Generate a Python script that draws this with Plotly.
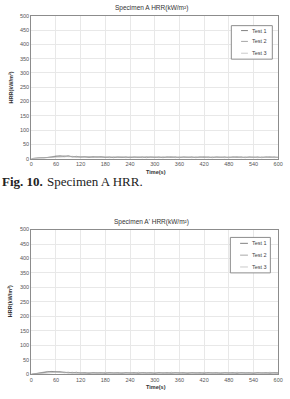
import plotly.graph_objects as go

W, H = 290, 399

# ---------------- data ----------------
time_s = list(range(0, 601, 10))
x_ticks = [0, 60, 120, 180, 240, 300, 360, 420, 480, 540, 600]
y_ticks = [0, 50, 100, 150, 200, 250, 300, 350, 400, 450, 500]
series_names = ["Test 1", "Test 2", "Test 3"]

a_test1 = [0, 1, 3, 2, 4, 5, 8, 10, 7, 10, 6, 8, 5, 7, 4, 7, 5, 7, 4, 6,
           3, 6, 4, 6, 3, 6, 4, 6, 3, 6, 4, 6, 3, 6, 4, 6, 3, 6, 4, 6,
           3, 6, 4, 6, 3, 6, 4, 6, 3, 6, 4, 6, 3, 6, 4, 6, 3, 6, 4, 6, 4]
a_test2 = [0, 2, 3, 2, 4, 6, 9, 7, 10, 7, 8, 5, 7, 5, 7, 4, 7, 4, 6, 3,
           6, 4, 6, 3, 6, 4, 6, 3, 7, 4, 6, 3, 6, 4, 7, 3, 6, 4, 6, 3,
           6, 4, 7, 3, 6, 4, 6, 3, 6, 4, 7, 3, 6, 4, 6, 3, 6, 4, 7, 3, 5]
a_test3 = [0, 1, 1, 2, 3, 4, 6, 7, 8, 7, 6, 6, 5, 6, 5, 5, 4, 5, 5, 4,
           5, 4, 5, 4, 4, 5, 4, 4, 5, 4, 4, 5, 4, 4, 5, 4, 4, 5, 4, 4,
           5, 4, 4, 5, 4, 4, 5, 4, 4, 5, 4, 4, 5, 4, 4, 5, 4, 4, 5, 4, 4]

b_test1 = [0, 2, 4, 7, 9, 10, 8, 9, 6, 7, 5, 7, 4, 6, 3, 6, 4, 6, 3, 6,
           4, 6, 3, 6, 4, 6, 3, 6, 4, 6, 3, 6, 4, 6, 3, 6, 4, 6, 3, 6,
           4, 6, 3, 6, 4, 6, 3, 6, 4, 6, 3, 6, 4, 6, 3, 6, 4, 6, 3, 6, 5]
b_test2 = [0, 3, 5, 8, 10, 8, 10, 7, 8, 5, 7, 4, 6, 3, 6, 4, 6, 3, 7, 4,
           6, 3, 6, 4, 6, 3, 7, 4, 6, 3, 6, 4, 6, 3, 7, 4, 6, 3, 6, 4,
           6, 3, 7, 4, 6, 3, 6, 4, 6, 3, 7, 4, 6, 3, 6, 4, 6, 3, 7, 4, 4]
b_test3 = [0, 1, 3, 5, 6, 7, 7, 6, 5, 5, 4, 5, 4, 4, 5, 4, 4, 5, 4, 4,
           5, 4, 4, 5, 4, 4, 5, 4, 4, 5, 4, 4, 5, 4, 4, 5, 4, 4, 5, 4,
           4, 5, 4, 4, 5, 4, 4, 5, 4, 4, 5, 4, 4, 5, 4, 4, 5, 4, 4, 5, 4]

line_colors = ["#606060", "#909090", "#bcbcbc"]

# ---------------- helpers ----------------
def px(x):
    return x / W

def py(y):
    return 1 - y / H

fig = go.Figure()

for name, ys, col in zip(series_names, [a_test1, a_test2, a_test3], line_colors):
    fig.add_trace(go.Scatter(x=time_s, y=ys, mode="lines", name=name,
                             line=dict(color=col, width=0.7),
                             xaxis="x", yaxis="y", showlegend=False))
for name, ys, col in zip(series_names, [b_test1, b_test2, b_test3], line_colors):
    fig.add_trace(go.Scatter(x=time_s, y=ys, mode="lines", name=name,
                             line=dict(color=col, width=0.7),
                             xaxis="x2", yaxis="y2", showlegend=False))

SANS = "Liberation Sans, Arial, sans-serif"
tick_font = dict(family=SANS, size=5.5, color="#555555")

def xaxis_cfg(anchor):
    return dict(domain=[px(30), px(283)], range=[0, 600], tickvals=x_ticks,
                ticktext=[str(v) for v in x_ticks], tickfont=tick_font,
                showgrid=True, gridcolor="#e8e8e8", gridwidth=0.6,
                showline=True, linecolor="#8c8c8c", linewidth=1, mirror=True,
                zeroline=False, ticks="", anchor=anchor, fixedrange=True)

def yaxis_cfg(dom, anchor):
    return dict(domain=dom, range=[0, 500], tickvals=y_ticks,
                ticktext=[str(v) for v in y_ticks], tickfont=tick_font,
                showgrid=True, gridcolor="#e8e8e8", gridwidth=0.6,
                showline=True, linecolor="#8c8c8c", linewidth=1, mirror=True,
                zeroline=False, ticks="", anchor=anchor, fixedrange=True)

fig.update_layout(
    width=W, height=H,
    margin=dict(l=0, r=0, t=0, b=0),
    paper_bgcolor="white", plot_bgcolor="white",
    showlegend=False,
    xaxis=xaxis_cfg("y"),
    yaxis=yaxis_cfg([py(158), py(13)], "x"),
    xaxis2=xaxis_cfg("y2"),
    yaxis2=yaxis_cfg([py(377), py(230)], "x2"),
)

annots = [
    dict(text="Specimen A HRR(kW/m²)", x=px(153), y=py(5),
         font=dict(family=SANS, size=6.5, color="#333333")),
    dict(text="Specimen A' HRR(kW/m²)", x=px(153), y=py(222),
         font=dict(family=SANS, size=6.5, color="#333333")),
    dict(text="HRR(kW/m²)", x=px(9), y=py(86), textangle=-90,
         font=dict(family=SANS, size=5.5, color="#333333", weight="bold")),
    dict(text="HRR(kW/m²)", x=px(9), y=py(303), textangle=-90,
         font=dict(family=SANS, size=5.5, color="#333333", weight="bold")),
    dict(text="Time(s)", x=px(158), y=py(172),
         font=dict(family=SANS, size=5.5, color="#333333", weight="bold")),
    dict(text="Time(s)", x=px(158), y=py(390),
         font=dict(family=SANS, size=5.5, color="#333333", weight="bold")),
    dict(text="Fig. 10.", x=px(-2), y=py(181), xanchor="left",
         font=dict(family="Liberation Serif, Times New Roman, serif", size=13,
                   color="#222222", weight="bold")),
    dict(text="Specimen A HRR.", x=px(44), y=py(181), xanchor="left",
         font=dict(family="Liberation Serif, Times New Roman, serif", size=13,
                   color="#222222")),
]
for a in annots:
    a.setdefault("xanchor", "center")
    fig.add_annotation(xref="paper", yref="paper", showarrow=False, yanchor="middle", **a)

# manual legends
shapes = []
legend_specs = [
    dict(box=(235, 23, 277, 57), rows=[28, 39, 51], lx=(245, 252), tx=254),
    dict(box=(234, 238, 275, 274), rows=[244, 256, 268], lx=(244, 252), tx=254),
]
for spec in legend_specs:
    x0, y0, x1, y1 = spec["box"]
    shapes.append(dict(type="rect", xref="paper", yref="paper",
                       x0=px(x0), x1=px(x1), y0=py(y1), y1=py(y0),
                       line=dict(color="#8c8c8c", width=1), fillcolor="white", layer="above"))
    for name, ry, col in zip(series_names, spec["rows"], line_colors):
        shapes.append(dict(type="line", xref="paper", yref="paper",
                           x0=px(spec["lx"][0]), x1=px(spec["lx"][1]), y0=py(ry), y1=py(ry),
                           line=dict(color=col, width=0.8), layer="above"))
        fig.add_annotation(xref="paper", yref="paper", showarrow=False,
                           x=px(spec["tx"]), y=py(ry), xanchor="left", yanchor="middle",
                           text=name, font=dict(family=SANS, size=5.5, color="#444444"))
fig.update_layout(shapes=shapes)

fig.write_html("out.html")
